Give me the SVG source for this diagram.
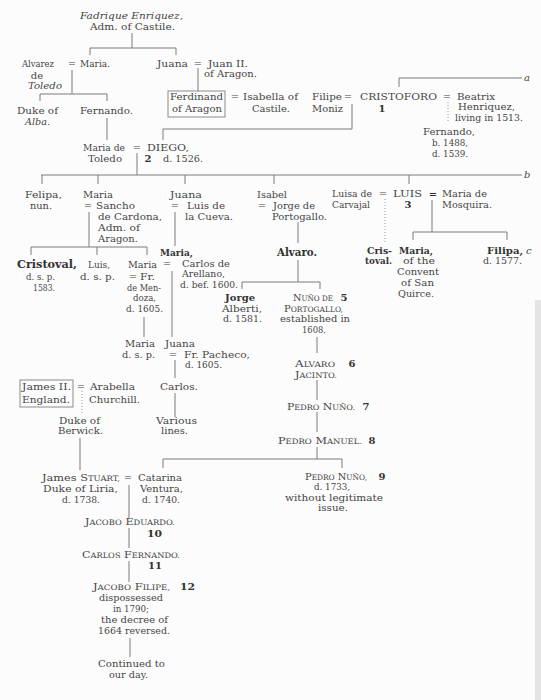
<svg xmlns="http://www.w3.org/2000/svg" width="541" height="700" viewBox="0 0 541 700">
<style>
.t{font-family:"DejaVu Serif","Liberation Serif",serif;font-size:10px;fill:#454545}
.i{font-style:italic}
.b{font-weight:bold;fill:#333}
.big{font-size:11.5px}
.sc{font-size:7.5px}
.m{text-anchor:middle}
.ln{stroke:#7a7a7a;stroke-width:1;fill:none}
.dt{stroke:#9a9a9a;stroke-width:1;stroke-dasharray:1 2;fill:none}
.box{stroke:#8a8a8a;stroke-width:1;fill:none}
</style>
<rect x="0" y="0" width="541" height="700" fill="#fcfcfc"/>
<rect x="535" y="300" width="6" height="400" fill="#e4e4e4"/>

<g id="connectors">
<path class="ln" d="M132 33V48M90 55V48H176V55"/>
<path class="ln" d="M72 70V94M40 101V94H107V101"/>
<path class="ln" d="M107 118V140"/>
<path class="ln" d="M198 68V91"/>
<path class="ln" d="M163 140V129H352V104"/>
<path class="ln" d="M399 87V78H522"/>
<path class="ln" d="M137 153V175M41 175H522M42 175V184M98 175V184M185 175V184M274 175V184M409 175V184"/>
<path class="ln" d="M89 212V247M31 255V247H147V255M97 247V255"/>
<path class="ln" d="M175 212V246"/>
<path class="ln" d="M172 271V337"/>
<path class="ln" d="M144 317V337"/>
<path class="ln" d="M175 360V378M175 393V417"/>
<path class="ln" d="M298 222V243M298 260V282M242 289V282H320V289"/>
<path class="ln" d="M317 337V353M317 380V400M317 412V432M317 447V459M163 468V459H342V468"/>
<path class="dt" d="M385 199V242"/>
<path class="ln" d="M432 200V232M413 240V232H507V240"/>
<path class="dt" d="M448 102V123"/>
<path class="dt" d="M82 391V413"/>
<path class="ln" d="M80 438V470"/>
<path class="ln" d="M129 485V518M129 528V548M129 561V582M130 638V657"/>
<rect class="box" x="168" y="91" width="57" height="26"/>
<rect class="box" x="20" y="380" width="53" height="27"/>
<text class="t i" x="524" y="81">a</text>
<text class="t i" x="524" y="178">b</text>
</g>

<g id="fadrique"><text class="t i" x="80" y="19" textLength="103" lengthAdjust="spacingAndGlyphs">Fadrique Enriquez,</text><text class="t" x="90" y="30" textLength="85" lengthAdjust="spacingAndGlyphs">Adm. of Castile.</text></g>
<g id="alvarez"><text class="t" x="22" y="67" textLength="32" lengthAdjust="spacingAndGlyphs">Alvarez</text><text class="t m" x="37" y="79">de</text><text class="t i" x="28" y="89" textLength="34" lengthAdjust="spacingAndGlyphs">Toledo</text><text class="t m" x="72" y="67">=</text></g>
<g id="maria-enriquez"><text class="t" x="80" y="67" textLength="30" lengthAdjust="spacingAndGlyphs">Maria.</text></g>
<g id="juana-enriquez"><text class="t" x="157" y="67" textLength="31" lengthAdjust="spacingAndGlyphs">Juana</text><text class="t m" x="198" y="67">=</text></g>
<g id="juan-ii"><text class="t" x="208" y="67" textLength="40" lengthAdjust="spacingAndGlyphs">Juan II.</text><text class="t" x="204" y="77" textLength="53" lengthAdjust="spacingAndGlyphs">of Aragon.</text></g>
<g id="duke-alba"><text class="t" x="17" y="114" textLength="41" lengthAdjust="spacingAndGlyphs">Duke of</text><text class="t i" x="25" y="125" textLength="25" lengthAdjust="spacingAndGlyphs">Alba.</text></g>
<g id="fernando-toledo"><text class="t" x="80" y="114" textLength="53" lengthAdjust="spacingAndGlyphs">Fernando.</text></g>
<g id="ferdinand"><text class="t" x="170" y="100" textLength="53" lengthAdjust="spacingAndGlyphs">Ferdinand</text><text class="t" x="172" y="112" textLength="50" lengthAdjust="spacingAndGlyphs">of Aragon</text><text class="t m" x="235" y="100">=</text></g>
<g id="isabella"><text class="t" x="243" y="100" textLength="55" lengthAdjust="spacingAndGlyphs">Isabella of</text><text class="t" x="252" y="112" textLength="38" lengthAdjust="spacingAndGlyphs">Castile.</text></g>
<g id="filipe"><text class="t" x="312" y="100" textLength="30" lengthAdjust="spacingAndGlyphs">Filipe</text><text class="t" x="312" y="112" textLength="31" lengthAdjust="spacingAndGlyphs">Moniz</text><text class="t m" x="348" y="100">=</text></g>
<g id="cristoforo"><text class="t" x="360" y="100" textLength="77" lengthAdjust="spacingAndGlyphs">CRISTOFORO</text><text class="t b m" x="382" y="112">1</text><text class="t m" x="447" y="100">=</text></g>
<g id="beatrix"><text class="t" x="457" y="100" textLength="38" lengthAdjust="spacingAndGlyphs">Beatrix</text><text class="t" x="458" y="110" textLength="57" lengthAdjust="spacingAndGlyphs">Henriquez,</text><text class="t" x="455" y="121" textLength="68" lengthAdjust="spacingAndGlyphs">living in 1513.</text></g>
<g id="fernando-colon"><text class="t" x="423" y="135" textLength="52" lengthAdjust="spacingAndGlyphs">Fernando,</text><text class="t" x="432" y="146" textLength="36" lengthAdjust="spacingAndGlyphs">b. 1488,</text><text class="t" x="432" y="157" textLength="36" lengthAdjust="spacingAndGlyphs">d. 1539.</text></g>
<g id="maria-toledo"><text class="t" x="83" y="151" textLength="42" lengthAdjust="spacingAndGlyphs">Maria de</text><text class="t" x="88" y="162" textLength="34" lengthAdjust="spacingAndGlyphs">Toledo</text><text class="t m" x="137" y="151">=</text></g>
<g id="diego"><text class="t" x="147" y="151" textLength="42" lengthAdjust="spacingAndGlyphs">DIEGO,</text><text class="t b m" x="148" y="162">2</text><text class="t" x="163" y="162" textLength="40" lengthAdjust="spacingAndGlyphs">d. 1526.</text></g>

<g id="felipa"><text class="t" x="25" y="198" textLength="37" lengthAdjust="spacingAndGlyphs">Felipa,</text><text class="t" x="30" y="209" textLength="22" lengthAdjust="spacingAndGlyphs">nun.</text></g>
<g id="maria-cardona"><text class="t" x="83" y="198" textLength="30" lengthAdjust="spacingAndGlyphs">Maria</text><text class="t m" x="88" y="209">=</text></g>
<g id="sancho"><text class="t" x="96" y="209" textLength="39" lengthAdjust="spacingAndGlyphs">Sancho</text><text class="t" x="98" y="220" textLength="64" lengthAdjust="spacingAndGlyphs">de Cardona,</text><text class="t" x="98" y="231" textLength="42" lengthAdjust="spacingAndGlyphs">Adm. of</text><text class="t" x="98" y="242" textLength="40" lengthAdjust="spacingAndGlyphs">Aragon.</text></g>
<g id="juana-cueva"><text class="t" x="170" y="198" textLength="32" lengthAdjust="spacingAndGlyphs">Juana</text><text class="t m" x="175" y="209">=</text></g>
<g id="luis-cueva"><text class="t" x="187" y="209" textLength="38" lengthAdjust="spacingAndGlyphs">Luis de</text><text class="t" x="185" y="220" textLength="48" lengthAdjust="spacingAndGlyphs">la Cueva.</text></g>
<g id="isabel"><text class="t" x="257" y="198" textLength="30" lengthAdjust="spacingAndGlyphs">Isabel</text><text class="t m" x="262" y="209">=</text></g>
<g id="jorge-portogallo"><text class="t" x="273" y="209" textLength="42" lengthAdjust="spacingAndGlyphs">Jorge de</text><text class="t" x="272" y="220" textLength="55" lengthAdjust="spacingAndGlyphs">Portogallo.</text></g>
<g id="luisa"><text class="t" x="332" y="197" textLength="40" lengthAdjust="spacingAndGlyphs">Luisa de</text><text class="t" x="332" y="208" textLength="38" lengthAdjust="spacingAndGlyphs">Carvajal</text><text class="t m" x="383" y="197">=</text></g>
<g id="luis"><text class="t" x="393" y="197" textLength="29" lengthAdjust="spacingAndGlyphs">LUIS</text><text class="t b m" x="408" y="208">3</text><text class="t b m" x="433" y="197">=</text></g>
<g id="maria-mosquira"><text class="t" x="442" y="197" textLength="45" lengthAdjust="spacingAndGlyphs">Maria de</text><text class="t" x="442" y="208" textLength="50" lengthAdjust="spacingAndGlyphs">Mosquira.</text></g>

<g id="cristoval-cardona"><text class="t b big" x="17" y="268" textLength="60" lengthAdjust="spacingAndGlyphs">Cristoval,</text><text class="t" x="26" y="280" textLength="29" lengthAdjust="spacingAndGlyphs">d. s. p.</text><text class="t" x="33" y="291" textLength="22" lengthAdjust="spacingAndGlyphs">1583.</text></g>
<g id="luis-cardona"><text class="t" x="88" y="268" textLength="22" lengthAdjust="spacingAndGlyphs">Luis,</text><text class="t" x="80" y="280" textLength="35" lengthAdjust="spacingAndGlyphs">d. s. p.</text></g>
<g id="maria-mendoza"><text class="t" x="128" y="268" textLength="29" lengthAdjust="spacingAndGlyphs">Maria</text><text class="t m" x="133" y="280">=</text><text class="t" x="140" y="280" textLength="15" lengthAdjust="spacingAndGlyphs">Fr.</text><text class="t" x="127" y="291" textLength="34" lengthAdjust="spacingAndGlyphs">de Men-</text><text class="t" x="133" y="301" textLength="23" lengthAdjust="spacingAndGlyphs">doza,</text><text class="t" x="126" y="312" textLength="37" lengthAdjust="spacingAndGlyphs">d. 1605.</text></g>
<g id="maria-arellano"><text class="t b" x="160" y="256" textLength="33" lengthAdjust="spacingAndGlyphs">Maria,</text><text class="t m" x="167" y="267">=</text></g>
<g id="carlos-arellano"><text class="t" x="182" y="267" textLength="48" lengthAdjust="spacingAndGlyphs">Carlos de</text><text class="t" x="182" y="277" textLength="43" lengthAdjust="spacingAndGlyphs">Arellano,</text><text class="t" x="180" y="288" textLength="58" lengthAdjust="spacingAndGlyphs">d. bef. 1600.</text></g>
<g id="alvaro"><text class="t b" style="font-size:11.5px" x="277" y="256" textLength="40" lengthAdjust="spacingAndGlyphs">Alvaro.</text></g>
<g id="jorge-alberti"><text class="t b" x="225" y="301" textLength="30" lengthAdjust="spacingAndGlyphs">Jorge</text><text class="t" x="222" y="312" textLength="40" lengthAdjust="spacingAndGlyphs">Alberti,</text><text class="t" x="223" y="322" textLength="39" lengthAdjust="spacingAndGlyphs">d. 1581.</text></g>
<g id="nuno-portogallo"><text class="t" x="293" y="301" textLength="40" lengthAdjust="spacingAndGlyphs">N<tspan class="sc">UÑO DE</tspan></text><text class="t b m" x="344" y="301">5</text><text class="t" x="284" y="312" textLength="59" lengthAdjust="spacingAndGlyphs">P<tspan class="sc">ORTOGALLO,</tspan></text><text class="t" x="280" y="322" textLength="70" lengthAdjust="spacingAndGlyphs">established in</text><text class="t" x="302" y="333" textLength="24" lengthAdjust="spacingAndGlyphs">1608.</text></g>
<g id="cristoval-luis"><text class="t b" x="367" y="254" textLength="25" lengthAdjust="spacingAndGlyphs">Cris-</text><text class="t b" x="365" y="264" textLength="27" lengthAdjust="spacingAndGlyphs">toval.</text></g>
<g id="maria-convent"><text class="t b" x="399" y="254" textLength="34" lengthAdjust="spacingAndGlyphs">Maria,</text><text class="t" x="403" y="264" textLength="32" lengthAdjust="spacingAndGlyphs">of the</text><text class="t" x="397" y="275" textLength="42" lengthAdjust="spacingAndGlyphs">Convent</text><text class="t" x="401" y="286" textLength="33" lengthAdjust="spacingAndGlyphs">of San</text><text class="t" x="398" y="297" textLength="36" lengthAdjust="spacingAndGlyphs">Quirce.</text></g>
<g id="filipa"><text class="t b" x="487" y="254" textLength="36" lengthAdjust="spacingAndGlyphs">Filipa,</text><text class="t i" x="526" y="254">c</text><text class="t" x="483" y="264" textLength="39" lengthAdjust="spacingAndGlyphs">d. 1577.</text></g>

<g id="maria-dsp"><text class="t" x="125" y="347" textLength="30" lengthAdjust="spacingAndGlyphs">Maria</text><text class="t" x="122" y="358" textLength="33" lengthAdjust="spacingAndGlyphs">d. s. p.</text></g>
<g id="juana-pacheco"><text class="t" x="165" y="347" textLength="30" lengthAdjust="spacingAndGlyphs">Juana</text><text class="t m" x="173" y="358">=</text></g>
<g id="pacheco"><text class="t" x="184" y="358" textLength="66" lengthAdjust="spacingAndGlyphs">Fr. Pacheco,</text><text class="t" x="185" y="368" textLength="37" lengthAdjust="spacingAndGlyphs">d. 1605.</text></g>
<g id="carlos"><text class="t" x="160" y="390" textLength="38" lengthAdjust="spacingAndGlyphs">Carlos.</text></g>
<g id="various-lines"><text class="t" x="156" y="424" textLength="41" lengthAdjust="spacingAndGlyphs">Various</text><text class="t" x="161" y="434" textLength="27" lengthAdjust="spacingAndGlyphs">lines.</text></g>
<g id="james-ii"><text class="t" x="22" y="390" textLength="49" lengthAdjust="spacingAndGlyphs">James II.</text><text class="t" x="22" y="403" textLength="48" lengthAdjust="spacingAndGlyphs">England.</text><text class="t m" x="81" y="390">=</text></g>
<g id="arabella"><text class="t" x="90" y="390" textLength="45" lengthAdjust="spacingAndGlyphs">Arabella</text><text class="t" x="89" y="403" textLength="51" lengthAdjust="spacingAndGlyphs">Churchill.</text></g>
<g id="berwick"><text class="t" x="59" y="424" textLength="41" lengthAdjust="spacingAndGlyphs">Duke of</text><text class="t" x="58" y="434" textLength="45" lengthAdjust="spacingAndGlyphs">Berwick.</text></g>
<g id="alvaro-jacinto"><text class="t" x="295" y="367" textLength="40" lengthAdjust="spacingAndGlyphs">A<tspan class="sc">LVARO</tspan></text><text class="t b m" x="352" y="367">6</text><text class="t" x="295" y="378" textLength="42" lengthAdjust="spacingAndGlyphs">J<tspan class="sc">ACINTO.</tspan></text></g>
<g id="pedro-nuno-7"><text class="t" x="287" y="410" textLength="68" lengthAdjust="spacingAndGlyphs">P<tspan class="sc">EDRO</tspan> N<tspan class="sc">UÑO.</tspan></text><text class="t b m" x="366" y="410">7</text></g>
<g id="pedro-manuel"><text class="t" x="278" y="444" textLength="84" lengthAdjust="spacingAndGlyphs">P<tspan class="sc">EDRO</tspan> M<tspan class="sc">ANUEL.</tspan></text><text class="t b m" x="372" y="444">8</text></g>
<g id="james-stuart"><text class="t" x="42" y="481" textLength="78" lengthAdjust="spacingAndGlyphs">James S<tspan class="sc">TUART,</tspan></text><text class="t" x="43" y="492" textLength="75" lengthAdjust="spacingAndGlyphs">Duke of Liria,</text><text class="t" x="62" y="503" textLength="38" lengthAdjust="spacingAndGlyphs">d. 1738.</text><text class="t m" x="128" y="481">=</text></g>
<g id="catarina"><text class="t" x="138" y="481" textLength="44" lengthAdjust="spacingAndGlyphs">Catarina</text><text class="t" x="140" y="492" textLength="43" lengthAdjust="spacingAndGlyphs">Ventura,</text><text class="t" x="142" y="503" textLength="38" lengthAdjust="spacingAndGlyphs">d. 1740.</text></g>
<g id="pedro-nuno-9"><text class="t" x="305" y="480" textLength="62" lengthAdjust="spacingAndGlyphs">P<tspan class="sc">EDRO</tspan> N<tspan class="sc">UÑO,</tspan></text><text class="t b m" x="382" y="480">9</text><text class="t" x="314" y="490" textLength="36" lengthAdjust="spacingAndGlyphs">d. 1733,</text><text class="t" x="285" y="501" textLength="98" lengthAdjust="spacingAndGlyphs">without legitimate</text><text class="t" x="318" y="511" textLength="30" lengthAdjust="spacingAndGlyphs">issue.</text></g>
<g id="jacobo-eduardo"><text class="t" x="85" y="525" textLength="90" lengthAdjust="spacingAndGlyphs">J<tspan class="sc">ACOBO</tspan> E<tspan class="sc">DUARDO.</tspan></text><text class="t b" x="147" y="537" textLength="15" lengthAdjust="spacingAndGlyphs">10</text></g>
<g id="carlos-fernando"><text class="t" x="82" y="558" textLength="98" lengthAdjust="spacingAndGlyphs">C<tspan class="sc">ARLOS</tspan> F<tspan class="sc">ERNANDO.</tspan></text><text class="t b" x="148" y="569" textLength="14" lengthAdjust="spacingAndGlyphs">11</text></g>
<g id="jacobo-filipe"><text class="t" x="93" y="590" textLength="77" lengthAdjust="spacingAndGlyphs">J<tspan class="sc">ACOBO</tspan> F<tspan class="sc">ILIPE,</tspan></text><text class="t b" x="180" y="590" textLength="15" lengthAdjust="spacingAndGlyphs">12</text><text class="t" x="99" y="601" textLength="64" lengthAdjust="spacingAndGlyphs">dispossessed</text><text class="t" x="113" y="612" textLength="36" lengthAdjust="spacingAndGlyphs">in 1790;</text><text class="t" x="101" y="623" textLength="67" lengthAdjust="spacingAndGlyphs">the decree of</text><text class="t" x="98" y="634" textLength="72" lengthAdjust="spacingAndGlyphs">1664 reversed.</text></g>
<g id="continued"><text class="t" x="98" y="667" textLength="67" lengthAdjust="spacingAndGlyphs">Continued to</text><text class="t" x="109" y="678" textLength="39" lengthAdjust="spacingAndGlyphs">our day.</text></g>
</svg>
